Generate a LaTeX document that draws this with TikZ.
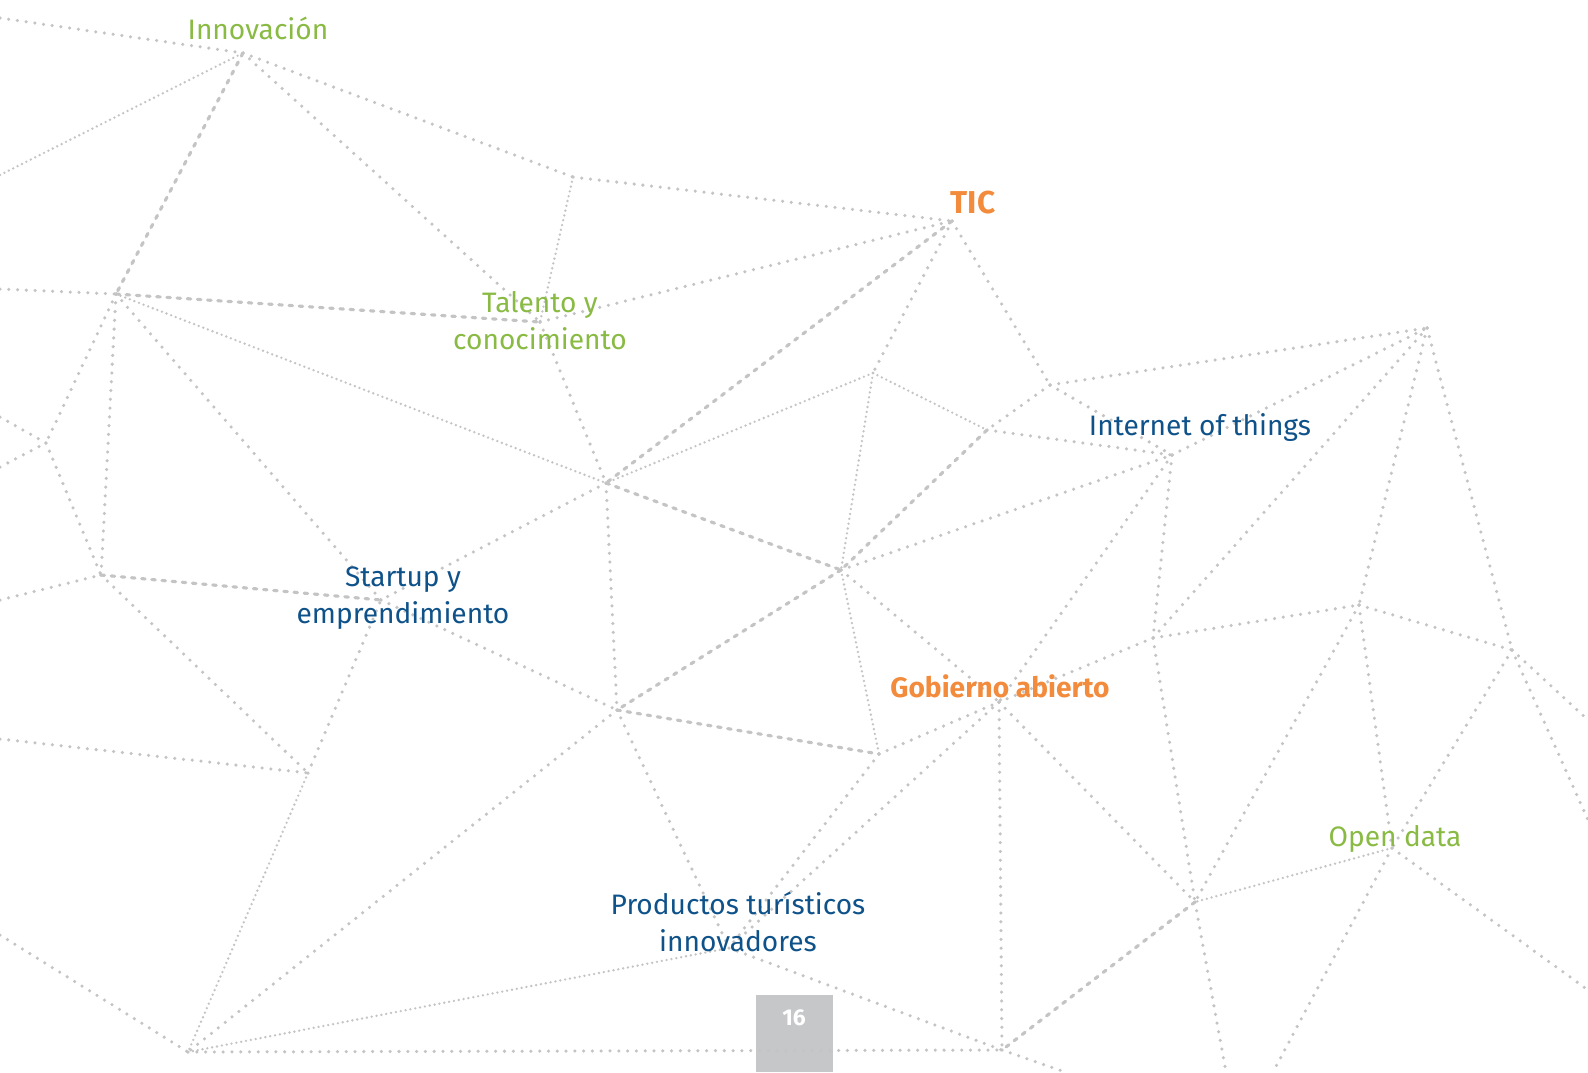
\documentclass[tikz,border=0pt]{standalone}
\usepackage{fontspec}
\setmainfont{Fira Sans}
\definecolor{linegray}{RGB}{196,196,196}
\definecolor{boxgray}{RGB}{198,199,201}
\definecolor{termgreen}{RGB}{137,186,67}
\definecolor{termorange}{RGB}{243,139,60}
\definecolor{termblue}{RGB}{14,82,137}

\begin{document}
\begin{tikzpicture}[x=0.01cm,y=-0.01cm]

\tikzset{link/.style = {draw=linegray, line width=1pt, line cap=round, dash pattern=on 0pt off 2.5pt}}
\tikzset{finelink/.style = {draw=linegray, line width=0.75pt, line cap=round, dash pattern=on 0pt off 1.4pt}}
\tikzset{dashlink/.style = {draw=linegray, line width=0.9pt, line cap=round, dash pattern=on 1pt off 1.9pt}}
\tikzset{term/.style = {align=center, inner sep=0pt, anchor=base, font=\fontsize{8}{10.3}\selectfont}}

\useasboundingbox (0,0) rectangle (1588,1072);

\fill[boxgray] (756,995) rectangle (833,1072);

\coordinate (inno) at (243,53);
\coordinate (tp) at (573,177);
\coordinate (tic) at (952,221);
\coordinate (la) at (116,294);
\coordinate (tal) at (540,322);
\coordinate (lb) at (46,443);
\coordinate (t1) at (873,373);
\coordinate (t2) at (987,430);
\coordinate (t3) at (1050,385);
\coordinate (iot) at (1172,455);
\coordinate (rt) at (1427,328);
\coordinate (ce) at (606,483);
\coordinate (cm) at (841,570);
\coordinate (lc) at (101,575);
\coordinate (st) at (381,600);
\coordinate (pb) at (617,710);
\coordinate (pm) at (879,754);
\coordinate (gob) at (999,702);
\coordinate (r1) at (1153,638);
\coordinate (r2) at (1359,605);
\coordinate (r3) at (1512,650);
\coordinate (od) at (1392,848);
\coordinate (r4) at (1195,902);
\coordinate (ld) at (308,773);
\coordinate (bl) at (188,1052);
\coordinate (bv) at (1002,1050);
\coordinate (pt) at (729,948);

\coordinate (w1) at (0,18);
\coordinate (w2) at (0,175);
\coordinate (w3) at (0,289);
\coordinate (w4) at (0,417);
\coordinate (w5) at (0,467);
\coordinate (w6) at (0,600);
\coordinate (w7) at (0,739);
\coordinate (w8) at (0,935);
\coordinate (e1) at (1588,720);
\coordinate (e2) at (1588,820);
\coordinate (e3) at (1588,990);
\coordinate (e4) at (1273,1072);
\coordinate (e5) at (1226,1072);
\coordinate (e6) at (1065,1072);

\draw[link] (w1) to (inno);
\draw[finelink] (w2) to (inno);
\draw[link] (inno) to (tp);
\draw[dashlink] (inno) to (la);
\draw[link] (inno) to (tal);
\draw[link] (tp) to (tic);
\draw[finelink] (tp) to (tal);
\draw[link] (tal) to (tic);

\draw[link] (w3) to (la);
\draw[dashlink] (la) to (tal);
\draw[finelink] (la) to (ce);
\draw[link] (la) to (lb);
\draw[link] (la) to (lc);
\draw[link] (la) to (st);
\draw[link] (w4) to (lb);
\draw[link] (w5) to (lb);
\draw[link] (lb) to (lc);
\draw[link] (w6) to (lc);
\draw[link] (lc) to (ld);
\draw[dashlink] (lc) to (st);
\draw[link] (w7) to (ld);
\draw[link] (ld) to (st);
\draw[finelink] (ld) to (bl);
\draw[link] (w8) to (bl);

\draw[link] (tal) to (ce);
\draw[dashlink] (tic) to (ce);
\draw[finelink] (t1) to (ce);
\draw[link] (ce) to (st);
\draw[link] (ce) to (pb);
\draw[dashlink] (ce) to (cm);
\draw[link] (tic) to (t1);
\draw[link] (tic) to (t3);
\draw[finelink] (t1) to (t2);
\draw[finelink] (t1) to (cm);
\draw[link] (t3) to (t2);
\draw[dashlink] (t2) to (cm);
\draw[link] (t3) to (iot);
\draw[link] (t2) to (iot);
\draw[link] (cm) to (iot);
\draw[link] (t3) to (rt);
\draw[link] (iot) to (rt);

\draw[link] (rt) to (r1);
\draw[link] (rt) to (r2);
\draw[link] (rt) to (r3);
\draw[link] (iot) to (r1);
\draw[link] (iot) to (gob);
\draw[link] (cm) to (gob);
\draw[finelink] (cm) to (pm);
\draw[dashlink] (cm) to (pb);
\draw[link] (st) to (pb);
\draw[dashlink] (pb) to (pm);
\draw[link] (pb) to (pt);
\draw[link] (pb) to (bl);
\draw[link] (pm) to (gob);
\draw[link] (pm) to (pt);
\draw[link] (gob) to (pt);
\draw[link] (gob) to (r1);
\draw[link] (gob) to (bv);
\draw[link] (gob) to (r4);

\draw[link] (r1) to (r2);
\draw[link] (r1) to (r4);
\draw[link] (r2) to (r3);
\draw[link] (r2) to (od);
\draw[link] (r2) to (r4);
\draw[link] (r3) to (od);
\draw[link] (r3) to (e1);
\draw[link] (r3) to (e2);
\draw[finelink] (od) to (r4);
\draw[link] (od) to (e3);
\draw[link] (od) to (e4);
\draw[dashlink] (r4) to (bv);
\draw[link] (r4) to (e5);
\draw[link] (bv) to (e6);
\draw[link] (pt) to (bv);
\draw[link] (bl) to (bv);
\draw[finelink] (bl) to (pt);

\node[term, text=termgreen] (innovacion) at (258,39) {Innovación};
\node[term, text=termorange, font=\fontsize{9}{11}\selectfont\bfseries] (ticlabel) at (973,213) {TIC};
\node[term, text=termgreen] (talento) at (540,349) {Talento y\\conocimiento};
\node[term, text=termblue] (internet) at (1200,435) {Internet of things};
\node[term, text=termblue] (startup) at (403,623) {Startup y\\emprendimiento};
\node[term, text=termorange, font=\fontsize{8}{10}\selectfont\bfseries] (gobierno) at (1000,697) {Gobierno abierto};
\node[term, text=termgreen] (opendata) at (1395,846) {Open data};
\node[term, text=termblue] (productos) at (738,951) {Productos turísticos\\innovadores};
\node[term, text=white, font=\fontsize{6.5}{8}\selectfont\bfseries] (page) at (794,1025) {16};

\end{tikzpicture}
\end{document}
